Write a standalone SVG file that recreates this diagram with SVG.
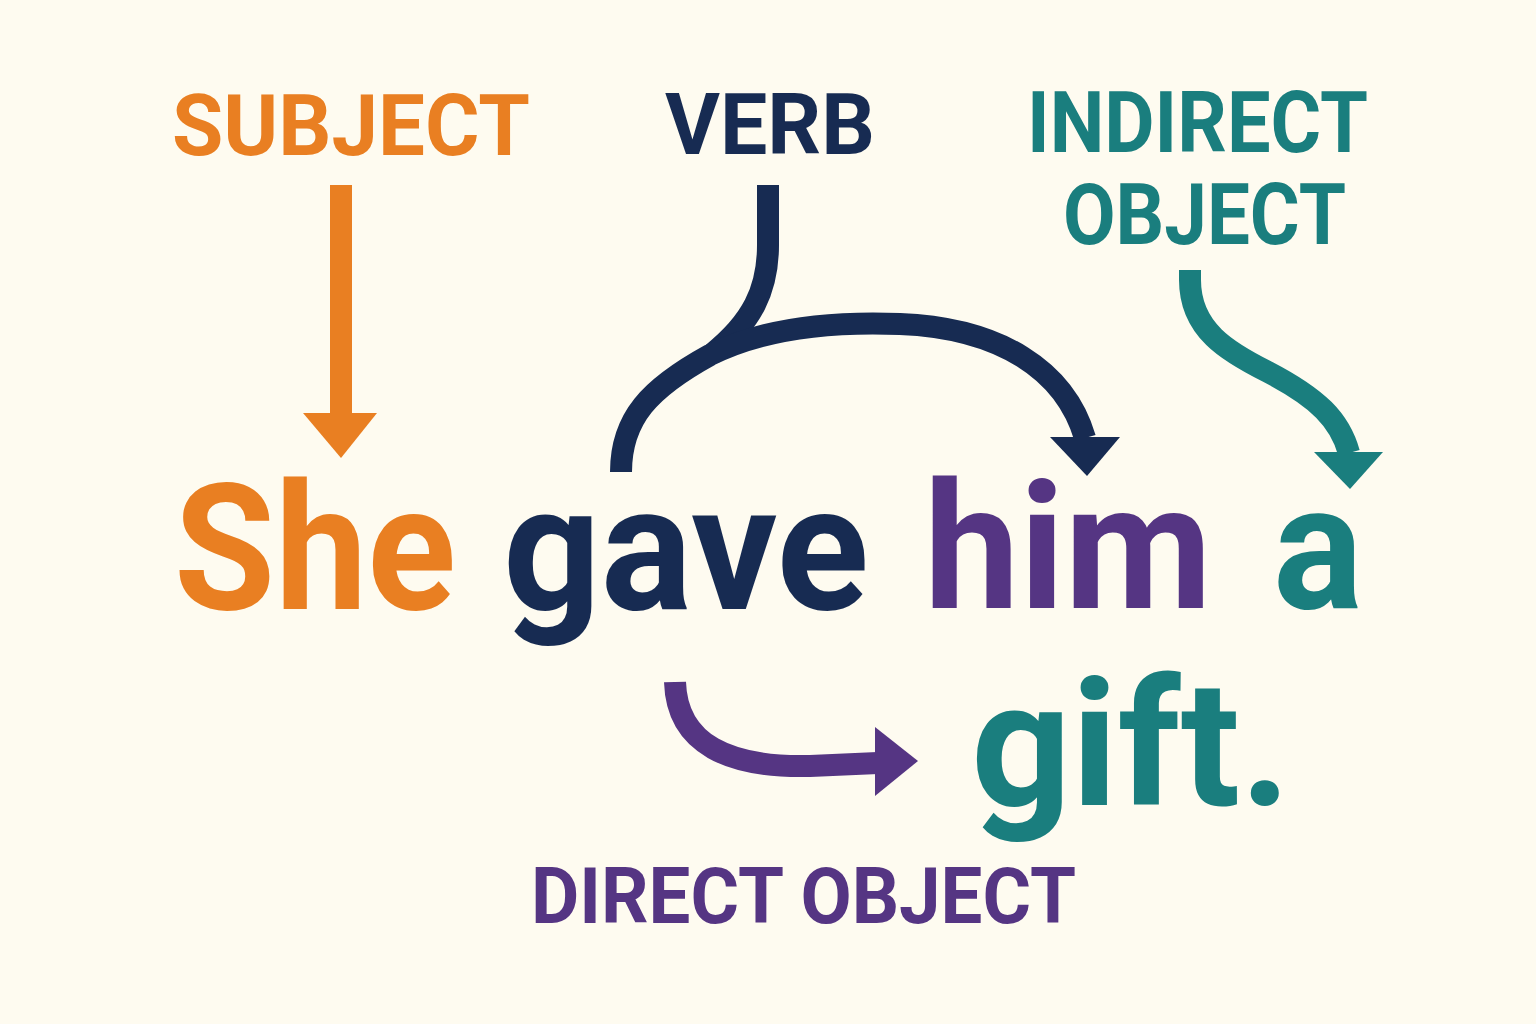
<svg xmlns="http://www.w3.org/2000/svg" width="1536" height="1024" viewBox="0 0 1536 1024">
<style>
  text { font-family: Roboto, "Liberation Sans", sans-serif; font-weight: 700; }
  .lbl { font-size: 86px; }
  .word { font-size: 176px; }
  .orange { fill: #E97F22; }
  .navy { fill: #172B52; }
  .purple { fill: #553583; }
  .teal { fill: #1A7E7E; }
  .line { fill: none; stroke-width: 22; stroke-linecap: butt; stroke-linejoin: round; }
</style>
<rect width="1536" height="1024" fill="#FEFBF0"/>

<g id="connectors">
  <g id="subject-arrow">
    <path class="line" stroke="#E97F22" d="M341 185 L341 414"/>
    <polygon class="orange" points="303,413 377,413 341,458"/>
  </g>
  <g id="verb-arrow">
    <path class="line" stroke="#172B52" d="M768 185 L768 245 C768 290 752 322 712 354"/>
    <path class="line" stroke="#172B52" d="M621 472 C621 418 650 388 710 355 C772 324 850 322 900 324 C1000 328 1065 370 1085 438"/>
    <polygon class="navy" points="1050,437 1120,437 1087,476"/>
  </g>
  <g id="indirect-arrow">
    <path class="line" stroke="#1A7E7E" d="M1190 270 L1190 280 C1190 330 1228 352 1268 372 C1318 398 1340 420 1349 453"/>
    <polygon class="teal" points="1314,452 1383,452 1350,489"/>
  </g>
  <g id="direct-arrow">
    <path class="line" stroke="#553583" stroke-width="23" d="M675 682 C677 745 730 768 810 766 L878 763"/>
    <polygon class="purple" points="875,727 875,796 918,761"/>
  </g>
</g>

<g id="label-subject"><text class="lbl orange" x="172" y="155" textLength="358" lengthAdjust="spacingAndGlyphs">SUBJECT</text></g>
<g id="label-verb"><text class="lbl navy" x="665" y="154" textLength="210" lengthAdjust="spacingAndGlyphs">VERB</text></g>
<g id="label-indirect-object">
  <text class="lbl teal" x="1027" y="152" textLength="341" lengthAdjust="spacingAndGlyphs">INDIRECT</text>
  <text class="lbl teal" x="1063" y="244" textLength="283" lengthAdjust="spacingAndGlyphs">OBJECT</text>
</g>
<g id="label-direct-object"><text class="purple" style="font-size:77px" x="531" y="923" textLength="545" lengthAdjust="spacingAndGlyphs">DIRECT OBJECT</text></g>

<g id="word-she"><text class="word orange" x="174" y="609" textLength="282" lengthAdjust="spacingAndGlyphs">She</text></g>
<g id="word-gave"><text class="word navy" x="503" y="609" textLength="366" lengthAdjust="spacingAndGlyphs">gave</text></g>
<g id="word-him"><text class="word purple" x="924" y="608" textLength="288" lengthAdjust="spacingAndGlyphs">him</text></g>
<g id="word-a"><text class="word teal" x="1273" y="608" textLength="90" lengthAdjust="spacingAndGlyphs">a</text></g>
<g id="word-gift"><text class="word teal" x="971" y="805" textLength="320" lengthAdjust="spacingAndGlyphs">gift.</text></g>
</svg>
